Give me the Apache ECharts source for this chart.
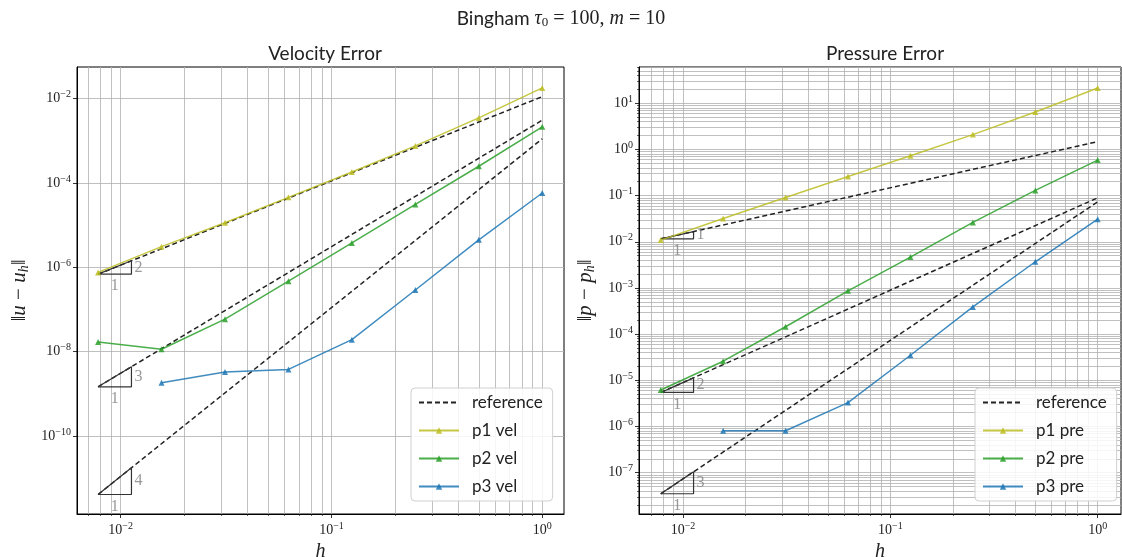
<!DOCTYPE html>
<html>
<head>
<meta charset="utf-8">
<script src="https://cdn.jsdelivr.net/npm/echarts@6/dist/echarts.min.js"></script>
<style>
  html, body { margin: 0; padding: 0; background: #fff; }
  #chart { width: 1122px; height: 557px; }
</style>
</head>
<body>
<div id="chart"></div>
<script>
// mesh sizes
var hValues = [1, 0.5, 0.25, 0.125, 0.0625, 0.03125, 0.015625, 0.0078125];

// velocity errors
var p1Vel = [1.8e-2, 3.5e-3, 7.6e-4, 1.83e-4, 4.57e-5, 1.14e-5, 3.1e-6, 7.6e-7];
var p2Vel = [2.15e-3, 2.5e-4, 3.1e-5, 3.8e-6, 4.7e-7, 5.9e-8, 1.14e-8, 1.7e-8];
var p3Vel = [5.8e-5, 4.5e-6, 2.9e-7, 1.93e-8, 3.8e-9, 3.3e-9, 1.83e-9, null];

// pressure errors
var p1Pre = [21.5, 6.5, 2.1, 0.73, 0.26, 0.0915, 0.032, 0.0109];
var p2Pre = [0.59, 0.13, 0.0263, 4.67e-3, 8.7e-4, 1.45e-4, 2.6e-5, 6.2e-6];
var p3Pre = [0.031, 3.7e-3, 3.9e-4, 3.5e-5, 3.3e-6, 8.1e-7, 8.1e-7, null];

// reference lines: value at h = 1/128 and at h = 1
var refH = [0.0078125, 1];
var refVel = [[6.9e-7, 1.12e-2], [1.47e-9, 3.1e-3], [4.1e-12, 1.12e-3]];
var refPre = [[1.16e-2, 1.48], [5.47e-6, 0.0897], [3.5e-8, 0.0735]];
var slopeVel = ['2', '3', '4'];
var slopePre = ['1', '2', '3'];

// slope triangles: [h left, h right, y low, y high]
var triVel = [[0.0078125, 0.01125, 6.9e-7, 1.43e-6], [0.0078125, 0.01125, 1.47e-9, 4.39e-9], [0.0078125, 0.01125, 4.1e-12, 1.76e-11]];
var triPre = [[0.0078125, 0.01125, 1.16e-2, 1.67e-2], [0.0078125, 0.01125, 5.47e-6, 1.13e-5], [0.0078125, 0.01125, 3.5e-8, 1.05e-7]];

// tick labels
var xMajor = [0.01, 0.1, 1];
var yMajorVel = [1e-10, 1e-8, 1e-6, 1e-4, 1e-2];
var yMajorPre = [1e-7, 1e-6, 1e-5, 1e-4, 1e-3, 1e-2, 1e-1, 1, 10];

var SANS = 'Lato';
var SERIF = 'Liberation Serif';
var GRIDC = '#b0b0b0';
var COLORS = ['#bcbd22', '#2ca02c', '#1f77b4'];

function minors(lo, hi) {
    var out = [];
    for (var e = lo; e <= hi; e++) {
        for (var k = 2; k <= 9; k++) out.push(+(k * Math.pow(10, e)).toPrecision(3));
    }
    return out;
}

function powLabel(v) {
    var e = Math.round(Math.log10(v));
    return '{b|10}{e|' + String(e).replace('-', '\u2212') + '}';
}

var labelRich = {
    b: { fontFamily: SERIF, fontSize: 14, color: '#222' },
    e: { fontFamily: SERIF, fontSize: 10, color: '#222', padding: [0, 0, 8, 0] }
};

function pts(ys) {
    var out = [];
    hValues.forEach(function (h, i) {
        if (ys[i] != null) out.push([h, ys[i]]);
    });
    return out;
}

function majorX(idx, min, max) {
    return {
        type: 'log', gridIndex: idx, position: 'bottom', min: min, max: max,
        name: 'h', nameLocation: 'middle', nameGap: 27,
        nameTextStyle: { fontFamily: SERIF, fontStyle: 'italic', fontSize: 20, color: '#222' },
        axisLine: { show: true, lineStyle: { color: '#000', width: 1 } },
        axisTick: { show: true, customValues: xMajor, length: 4, lineStyle: { color: '#000', width: 0.8 } },
        axisLabel: { customValues: xMajor, formatter: powLabel, rich: labelRich, margin: 7 },
        splitLine: { show: true, lineStyle: { color: GRIDC, width: 0.8 } }
    };
}

function minorX(idx, min, max) {
    return {
        type: 'log', gridIndex: idx, position: 'bottom', min: min, max: max,
        axisLine: { show: false },
        axisTick: { show: true, customValues: minors(-3, 0), length: 2, lineStyle: { color: '#000', width: 0.6 } },
        axisLabel: { show: false },
        splitLine: { show: true, lineStyle: { color: GRIDC, width: 0.8 } }
    };
}

function majorY(idx, min, max, ticks, nameRich, gap) {
    return {
        type: 'log', gridIndex: idx, position: 'left', min: min, max: max,
        name: nameRich, nameLocation: 'middle', nameGap: gap, nameRotate: 90,
        nameTextStyle: {
            rich: {
                n: { fontFamily: SERIF, fontSize: 21, color: '#222' },
                i: { fontFamily: SERIF, fontStyle: 'italic', fontSize: 21, color: '#222' },
                s: { fontFamily: SERIF, fontStyle: 'italic', fontSize: 14, color: '#222', padding: [9, 0, 0, 0] }
            }
        },
        axisLine: { show: true, lineStyle: { color: '#000', width: 1 } },
        axisTick: { show: true, customValues: ticks, length: 4, lineStyle: { color: '#000', width: 0.8 } },
        axisLabel: { customValues: ticks, formatter: powLabel, rich: labelRich, margin: 6 },
        splitLine: { show: true, lineStyle: { color: GRIDC, width: 0.8 } }
    };
}

function minorY(idx, min, max) {
    return {
        type: 'log', gridIndex: idx, position: 'left', min: min, max: max,
        axisLine: { show: false },
        axisTick: { show: true, customValues: minors(-9, 1), length: 2, lineStyle: { color: '#000', width: 0.6 } },
        axisLabel: { show: false },
        splitLine: { show: true, lineStyle: { color: GRIDC, width: 0.8 } }
    };
}

function lineSeries(name, ys, color, xi, yi) {
    return {
        name: name, type: 'line', xAxisIndex: xi, yAxisIndex: yi,
        data: pts(ys), symbol: 'triangle', symbolSize: 6, showSymbol: true,
        lineStyle: { color: color, width: 1.5, opacity: 0.85 },
        itemStyle: { color: color, opacity: 0.85 },
        emphasis: { disabled: true }, z: 5
    };
}

function refSeries(refs, tris, slopes, xi, yi) {
    var out = [];
    refs.forEach(function (r, k) {
        out.push({
            name: 'reference', type: 'line', xAxisIndex: xi, yAxisIndex: yi,
            data: [[refH[0], r[0]], [refH[1], r[1]]], symbol: 'none',
            lineStyle: { color: '#222', width: 1.5, type: [5, 3] },
            itemStyle: { color: '#222' }, emphasis: { disabled: true }, z: 4
        });
        var t = tris[k];
        out.push({
            type: 'line', xAxisIndex: xi, yAxisIndex: yi, silent: true, symbol: 'none',
            data: [[t[0], t[2]], [t[1], t[2]], [t[1], t[3]], [t[0], t[2]]],
            lineStyle: { color: '#333', width: 1.2 }, z: 4
        });
        var lbl = { show: true, fontFamily: SERIF, fontSize: 16, color: '#808080' };
        out.push({
            type: 'scatter', xAxisIndex: xi, yAxisIndex: yi, silent: true, symbolSize: 0,
            data: [
                { value: [Math.sqrt(t[0] * t[1]), t[2]], label: Object.assign({ position: 'bottom', distance: 4, formatter: '1' }, lbl) },
                { value: [t[1], Math.sqrt(t[2] * t[3])], label: Object.assign({ position: 'right', distance: 3, formatter: slopes[k] }, lbl) }
            ], z: 6
        });
    });
    return out;
}

function legendAt(left, names) {
    var data = names.map(function (n) {
        return n === 'reference' ? { name: n, itemStyle: { opacity: 0 } } : n;
    });
    return {
        orient: 'vertical', left: left, top: 388,
        data: data, itemWidth: 40, itemHeight: 8, itemGap: 11,
        padding: [6, 10, 6, 7],
        backgroundColor: 'rgba(255,255,255,0.85)',
        borderColor: '#d0d0d0', borderWidth: 1, borderRadius: 4,
        selectedMode: false,
        textStyle: { fontFamily: SANS, fontSize: 17, color: '#222', padding: [0, 0, 0, 8] }
    };
}

var chart = echarts.init(document.getElementById('chart'));
var option = {
    animation: false,
    backgroundColor: '#fff',
    title: [
        {
            text: '{s|Bingham} {m|\u03c4}{sub|0}{r| = 100, }{m|m}{r| = 10}',
            left: 'center', top: 3,
            textStyle: {
                fontWeight: 'normal',
                rich: {
                    s: { fontFamily: SANS, fontSize: 19, fontWeight: 'normal', color: '#222' },
                    m: { fontFamily: SERIF, fontStyle: 'italic', fontWeight: 'normal', fontSize: 20, color: '#222' },
                    r: { fontFamily: SERIF, fontWeight: 'normal', fontSize: 20, color: '#222' },
                    sub: { fontFamily: SERIF, fontWeight: 'normal', fontSize: 13, color: '#222', padding: [8, 0, 0, 0] }
                }
            }
        },
        { text: 'Velocity Error', left: 320, top: 39, textAlign: 'center', textStyle: { fontFamily: SANS, fontSize: 19, fontWeight: 'normal', color: '#222' } },
        { text: 'Pressure Error', left: 880, top: 39, textAlign: 'center', textStyle: { fontFamily: SANS, fontSize: 19, fontWeight: 'normal', color: '#222' } }
    ],
    legend: [
        legendAt(411, ['reference', 'p1 vel', 'p2 vel', 'p3 vel']),
        legendAt(975, ['reference', 'p1 pre', 'p2 pre', 'p3 pre'])
    ],
    grid: [
        { left: 77, top: 67, width: 487, height: 447, show: true, borderColor: '#000', borderWidth: 1, backgroundColor: 'transparent', outerBoundsMode: 'none' },
        { left: 639, top: 67, width: 482, height: 447, show: true, borderColor: '#000', borderWidth: 1, backgroundColor: 'transparent', outerBoundsMode: 'none' }
    ],
    xAxis: [
        majorX(0, 0.006206, 1.268),
        minorX(0, 0.006206, 1.268),
        majorX(1, 0.006138, 1.295),
        minorX(1, 0.006138, 1.295)
    ],
    yAxis: [
        majorY(0, 1.413e-12, 0.0565, yMajorVel, '{n|\u2016}{i|u}{n| \u2212 }{i|u}{s|h}{n|\u2016}', 46),
        majorY(1, 1.276e-8, 61.1, yMajorPre, '{n|\u2016}{i|p}{n| \u2212 }{i|p}{s|h}{n|\u2016}', 42),
        minorY(1, 1.276e-8, 61.1)
    ],
    series: [].concat(
        refSeries(refVel, triVel, slopeVel, 0, 0),
        [
            lineSeries('p1 vel', p1Vel, COLORS[0], 0, 0),
            lineSeries('p2 vel', p2Vel, COLORS[1], 0, 0),
            lineSeries('p3 vel', p3Vel, COLORS[2], 0, 0)
        ],
        refSeries(refPre, triPre, slopePre, 2, 1),
        [
            lineSeries('p1 pre', p1Pre, COLORS[0], 2, 1),
            lineSeries('p2 pre', p2Pre, COLORS[1], 2, 1),
            lineSeries('p3 pre', p3Pre, COLORS[2], 2, 1)
        ]
    )
};
chart.setOption(option);
</script>
</body>
</html>
